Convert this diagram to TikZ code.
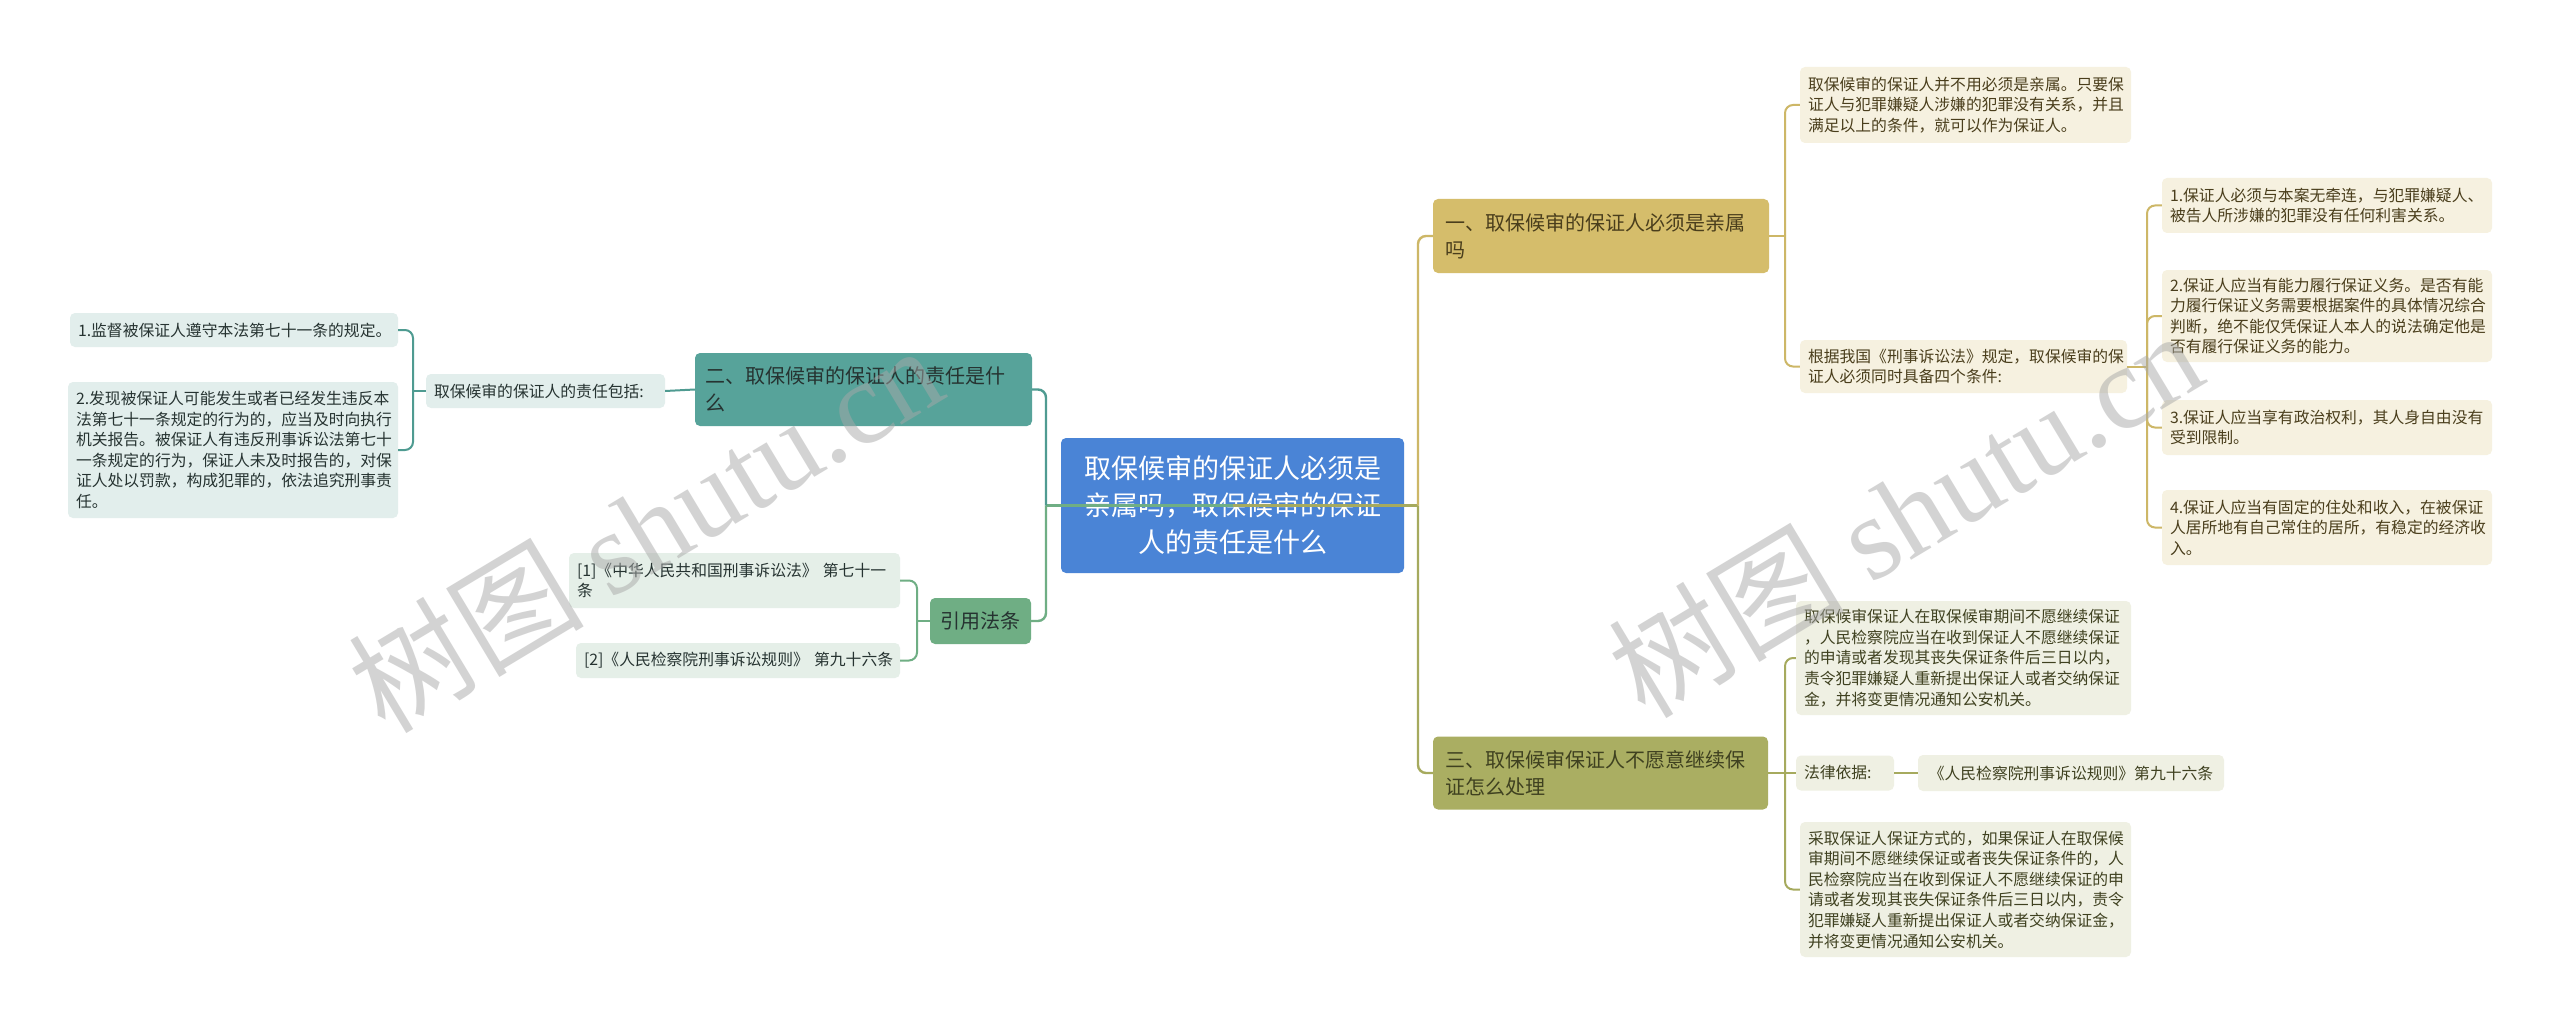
\documentclass[tikz,border=0pt]{standalone}
\usepackage{fontspec}
\usepackage{tikz}
\usepackage{xcolor}
\newfontfamily\cjk{Noto Sans CJK SC}
\newfontfamily\wmserif{Liberation Serif}
\definecolor{rootblue}{HTML}{4A84D6}
\definecolor{tealmain}{HTML}{57A39A}
\definecolor{tealline}{HTML}{4F9B91}
\definecolor{tealsoft}{HTML}{E2EEEC}
\definecolor{greenmain}{HTML}{6FAE84}
\definecolor{greensoft}{HTML}{E5EFE8}
\definecolor{goldmain}{HTML}{D5BD6B}
\definecolor{goldline}{HTML}{CDB767}
\definecolor{goldsoft}{HTML}{F6F1E0}
\definecolor{olivemain}{HTML}{AAAE62}
\definecolor{oliveline}{HTML}{A6AA5E}
\definecolor{olivesoft}{HTML}{EFF0E3}
\definecolor{darktext}{HTML}{263331}
\definecolor{goldtext}{HTML}{4A3E1C}
\definecolor{olivetext}{HTML}{3F4120}
\definecolor{wmgray}{HTML}{A8A8A8}

\begin{document}
\begin{tikzpicture}[x=1pt,y=-1pt,
  every node/.style={inner sep=0pt, rounded corners=5pt},
  rootbox/.style={fill=rootblue, text=white, align=center, font=\cjk\fontsize{27}{37}\selectfont},
  topicbox/.style={align=left, inner xsep=10pt, font=\cjk\fontsize{20}{27}\selectfont},
  leafbox/.style={align=left, inner xsep=8pt, font=\cjk\fontsize{15.8}{20.6}\selectfont},
  link/.style={line width=2.4pt, rounded corners=8pt},
  sublink/.style={line width=2pt, rounded corners=8pt},
  wmark/.style={text=wmgray, opacity=0.5, rotate=31, rounded corners=0pt, font=\cjk\fontsize{118}{118}\selectfont},
]
\fill[white] (0,0) rectangle (2560,1027);
\useasboundingbox (0,0) rectangle (2560,1027);

\node[rootbox, minimum width=343pt, minimum height=135pt] (root) at (1232.5,505.5) {取保候审的保证人必须是\\亲属吗，取保候审的保证\\人的责任是什么};

\node[topicbox, fill=tealmain, text=darktext, text width=317pt, minimum height=73pt] (duty) at (863.5,389.5) {二、取保候审的保证人的责任是什\\么};
\node[leafbox, fill=tealsoft, text=darktext, text width=223pt, minimum height=34pt] (dutyinc) at (545.5,391) {取保候审的保证人的责任包括:};
\node[leafbox, fill=tealsoft, text=darktext, text width=312pt, minimum height=34pt] (dutyone) at (234,330) {1.监督被保证人遵守本法第七十一条的规定。};
\node[leafbox, fill=tealsoft, text=darktext, text width=314pt, minimum height=136pt] (dutytwo) at (233,450) {2.发现被保证人可能发生或者已经发生违反本\\法第七十一条规定的行为的，应当及时向执行\\机关报告。被保证人有违反刑事诉讼法第七十\\一条规定的行为，保证人未及时报告的，对保\\证人处以罚款，构成犯罪的，依法追究刑事责\\任。};

\node[topicbox, fill=greenmain, text=darktext, align=center, inner xsep=0pt, minimum width=101pt, minimum height=46pt] (cite) at (980.5,621) {引用法条};
\node[leafbox, fill=greensoft, text=darktext, text width=315pt, minimum height=55pt] (citeone) at (734.5,580.5) {[1]《中华人民共和国刑事诉讼法》~第七十一\\条};
\node[leafbox, fill=greensoft, text=darktext, text width=308pt, minimum height=35pt] (citetwo) at (738,660.5) {[2]《人民检察院刑事诉讼规则》~第九十六条};

\node[topicbox, fill=goldmain, text=goldtext, inner xsep=12pt, text width=312pt, minimum height=74pt] (kin) at (1601,236) {一、取保候审的保证人必须是亲属\\吗};
\node[leafbox, fill=goldsoft, text=goldtext, text width=315pt, minimum height=76pt] (kinno) at (1965.5,105) {取保候审的保证人并不用必须是亲属。只要保\\证人与犯罪嫌疑人涉嫌的犯罪没有关系，并且\\满足以上的条件，就可以作为保证人。};
\node[leafbox, fill=goldsoft, text=goldtext, text width=311pt, minimum height=53pt] (kinlaw) at (1963.5,366.5) {根据我国《刑事诉讼法》规定，取保候审的保\\证人必须同时具备四个条件:};
\node[leafbox, fill=goldsoft, text=goldtext, text width=314pt, minimum height=55pt] (condone) at (2327,205.5) {1.保证人必须与本案无牵连，与犯罪嫌疑人、\\被告人所涉嫌的犯罪没有任何利害关系。};
\node[leafbox, fill=goldsoft, text=goldtext, text width=314pt, minimum height=92pt] (condtwo) at (2327,316) {2.保证人应当有能力履行保证义务。是否有能\\力履行保证义务需要根据案件的具体情况综合\\判断，绝不能仅凭保证人本人的说法确定他是\\否有履行保证义务的能力。};
\node[leafbox, fill=goldsoft, text=goldtext, text width=314pt, minimum height=55pt] (condthree) at (2327,427.5) {3.保证人应当享有政治权利，其人身自由没有\\受到限制。};
\node[leafbox, fill=goldsoft, text=goldtext, text width=314pt, minimum height=75pt] (condfour) at (2327,527.5) {4.保证人应当有固定的住处和收入，在被保证\\人居所地有自己常住的居所，有稳定的经济收\\入。};

\node[topicbox, fill=olivemain, text=olivetext, inner xsep=12pt, text width=311pt, minimum height=73pt] (quit) at (1600.5,773) {三、取保候审保证人不愿意继续保\\证怎么处理};
\node[leafbox, fill=olivesoft, text=olivetext, text width=319pt, minimum height=114pt] (quitone) at (1963.5,658) {取保候审保证人在取保候审期间不愿继续保证\\，人民检察院应当在收到保证人不愿继续保证\\的申请或者发现其丧失保证条件后三日以内，\\责令犯罪嫌疑人重新提出保证人或者交纳保证\\金，并将变更情况通知公安机关。};
\node[leafbox, fill=olivesoft, text=olivetext, text width=82pt, minimum height=35pt] (quitbasis) at (1845,773) {法律依据:};
\node[leafbox, fill=olivesoft, text=olivetext, align=center, text width=290pt, minimum height=36pt] (quitrule) at (2071,773) {《人民检察院刑事诉讼规则》第九十六条};
\node[leafbox, fill=olivesoft, text=olivetext, text width=315pt, minimum height=135pt] (quittwo) at (1965.5,889.5) {采取保证人保证方式的，如果保证人在取保候\\审期间不愿继续保证或者丧失保证条件的，人\\民检察院应当在收到保证人不愿继续保证的申\\请或者发现其丧失保证条件后三日以内，责令\\犯罪嫌疑人重新提出保证人或者交纳保证金，\\并将变更情况通知公安机关。};

\coordinate (jleft) at (1046,505.5);
\coordinate (jright) at (1418,505.5);
\draw[link, greenmain] (root.center) -- (jleft);
\draw[link, oliveline] (root.center) -- (jright);
\draw[link, tealline] (jleft) |- (duty.east);
\draw[link, greenmain] (jleft) |- (cite.east);
\draw[link, goldline] (jright) |- (kin.west);
\draw[link, oliveline] (jright) |- (quit.west);

\draw[sublink, tealline] (duty.west) -- (dutyinc.east);
\coordinate (jduty) at (413,391);
\draw[sublink, tealline] (dutyinc.west) -- (jduty);
\draw[sublink, tealline] (jduty) |- (dutyone.east);
\draw[sublink, tealline] (jduty) |- (dutytwo.east);

\coordinate (jcite) at (917,621);
\draw[sublink, greenmain] (cite.west) -- (jcite);
\draw[sublink, greenmain] (jcite) |- (citeone.east);
\draw[sublink, greenmain] (jcite) |- (citetwo.east);

\coordinate (jkin) at (1785,236);
\draw[sublink, goldline] (kin.east) -- (jkin);
\draw[sublink, goldline] (jkin) |- (kinno.west);
\draw[sublink, goldline] (jkin) |- (kinlaw.west);

\coordinate (jcond) at (2147,366.5);
\draw[sublink, goldline] (kinlaw.east) -- (jcond);
\foreach \n in {condone,condtwo,condthree,condfour}
  \draw[sublink, goldline] (jcond) |- (\n.west);

\coordinate (jquit) at (1785,773);
\draw[sublink, oliveline] (quit.east) -- (jquit);
\draw[sublink, oliveline] (jquit) |- (quitone.west);
\draw[sublink, oliveline] (jquit) -- (quitbasis.west);
\draw[sublink, oliveline] (jquit) |- (quittwo.west);
\draw[sublink, oliveline] (quitbasis.east) -- (quitrule.west);

\node[wmark] (wmleft) at (645,527) {树图 {\wmserif shutu.cn}};
\node[wmark] (wmright) at (1905,512) {树图 {\wmserif shutu.cn}};
\end{tikzpicture}
\end{document}
